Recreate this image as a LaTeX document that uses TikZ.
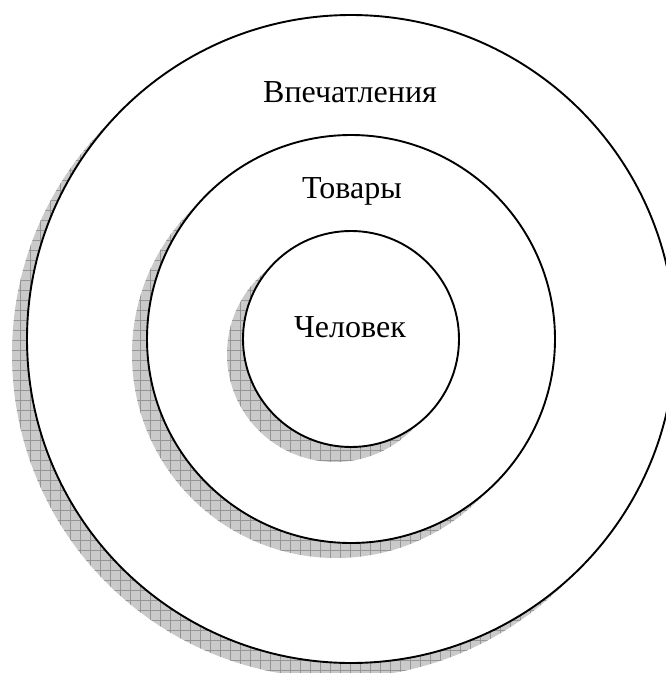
\documentclass[tikz,border=0pt]{standalone}
\usepackage{fontspec}
\setmainfont{Liberation Serif}
\definecolor{shadefill}{HTML}{CACACA}
\definecolor{shadegrid}{HTML}{959595}
\tikzset{
  ring/.style={draw=black, line width=1.9pt, fill=white},
  label/.style={anchor=base, font=\fontsize{32}{38}\selectfont, inner sep=0pt},
}
\newcommand{\myshadow}[3]{%
  \begin{scope}
    \clip (#1,#2) circle[radius=#3pt];
    \fill[shadefill] (0,0) rectangle (666,673);
    \draw[shadegrid, line width=0.5pt, step=10pt] (0,0) grid (666,673);
  \end{scope}}
\begin{document}
\begin{tikzpicture}[x=1pt,y=-1pt]
  \useasboundingbox (0,0) rectangle (666,673);
  \clip (0,0) rectangle (666,673);
  \coordinate (c) at (351,339);
  \myshadow{336}{354}{324}
  \draw[ring] (c) circle[radius=324pt];
  \myshadow{336}{354}{204}
  \draw[ring] (c) circle[radius=204pt];
  \myshadow{335}{354}{108}
  \draw[ring] (c) circle[radius=108pt];
  \node[label] (vpech) at (350,102) {Впечатления};
  \node[label] (tovary) at (352,198) {Товары};
  \node[label] (chel) at (350,337) {Человек};
\end{tikzpicture}
\end{document}
